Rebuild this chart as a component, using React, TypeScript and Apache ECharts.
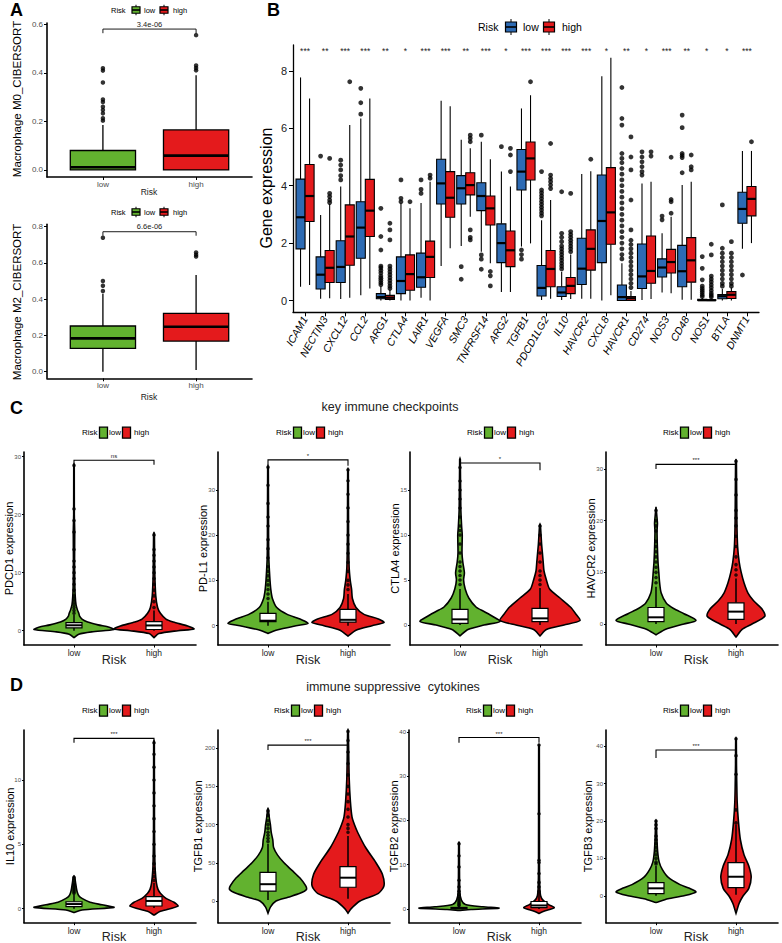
import React, { useEffect, useRef } from "react";
import * as echarts from "echarts";

// ---------------- DATA ----------------
const RISK_GROUPS = ["low", "high"];

// Panel A (boxplots: [lowerWhisker, q1, median, q3, upperWhisker])
const A_TITLES = ["Macrophage M0_CIBERSORT", "Macrophage M2_CIBERSORT"];
const A_YTICKS = [[0, 0.2, 0.4, 0.6], [0, 0.2, 0.4, 0.6, 0.8]];
const A_M0_LOW = [0, 0, 0.011, 0.08, 0.185];
const A_M0_HIGH = [0, 0, 0.059, 0.165, 0.39];
const A_M0_LOW_OUT = [0.203, 0.213, 0.233, 0.247, 0.26, 0.28, 0.29, 0.36, 0.409, 0.419];
const A_M0_HIGH_OUT = [0.41, 0.42, 0.43, 0.555];
const A_M2_LOW = [0.0, 0.129, 0.184, 0.252, 0.43];
const A_M2_HIGH = [0.01, 0.169, 0.248, 0.322, 0.533];
const A_M2_LOW_OUT = [0.445, 0.474, 0.5, 0.739];
const A_M2_HIGH_OUT = [0.635, 0.645, 0.658];
const A_PVALUES = ["3.4e-06", "6.6e-06"];
const A_BRACKETS = [[0.58, 0.563, 0.563], [0.772, 0.75, 0.75]];

// Panel B
const B_GENES = ["ICAM1", "NECTIN3", "CXCL12", "CCL2", "ARG1", "CTLA4", "LAIR1", "VEGFA", "SMC3", "TNFRSF14", "ARG2", "TGFB1", "PDCD1LG2", "IL10", "HAVCR2", "CXCL8", "HAVCR1", "CD274", "NOS3", "CD48", "NOS1", "BTLA", "DNMT1"];
const B_STARS = ["***", "**", "***", "***", "**", "*", "***", "***", "**", "***", "*", "***", "***", "***", "***", "*", "**", "*", "***", "**", "*", "*", "***"];
const B_YTICKS = [0, 2, 4, 6, 8];
const B_LOW = [
  [0.48, 1.8, 2.9, 4.23, 7.77], [0.06, 0.4, 0.9, 1.52, 2.98], [0.05, 0.63, 1.17, 2.08, 3.97], [0.18, 1.47, 2.54, 3.44, 6.34],
  [0, 0.06, 0.12, 0.24, 0.5], [0, 0.24, 0.68, 1.52, 3.39], [0.1, 0.46, 0.81, 1.65, 3.4], [1.2, 3.36, 4.08, 4.92, 6.96],
  [1.9, 3.36, 3.91, 4.35, 5.6], [1.7, 3.13, 3.64, 4.1, 5.53], [0.3, 1.32, 2.0, 2.67, 4.49], [1.88, 3.85, 4.49, 5.26, 6.69],
  [0.02, 0.16, 0.44, 1.22, 2.8], [0.02, 0.14, 0.28, 0.48, 1.0], [0.06, 0.56, 1.11, 2.17, 4.41], [0, 1.32, 2.77, 4.37, 7.81],
  [0, 0, 0.12, 0.54, 1.3], [0.02, 0.42, 0.84, 1.97, 4.08], [0.28, 0.82, 1.15, 1.45, 2.34], [0.03, 0.48, 1.02, 1.92, 4.02],
  [0, 0, 0.01, 0.04, 0.1], [0, 0.06, 0.15, 0.21, 0.41], [1.8, 2.69, 3.19, 3.77, 5.21],
];
const B_HIGH = [
  [0.54, 2.75, 3.64, 4.74, 7.04], [0.08, 0.63, 1.14, 1.74, 3.36], [0.1, 1.23, 2.23, 3.33, 6.11], [0.42, 2.23, 3.13, 4.22, 7.04],
  [0, 0.04, 0.1, 0.18, 0.38], [0, 0.36, 0.92, 1.59, 3.21], [0, 0.8, 1.52, 2.07, 4.14], [1.82, 2.9, 3.58, 4.49, 6.77],
  [2.92, 3.68, 4.02, 4.45, 5.3], [1.3, 2.63, 3.21, 3.64, 4.92], [0.3, 1.18, 1.75, 2.42, 3.97], [1.99, 4.2, 4.95, 5.52, 7.15],
  [0.06, 0.48, 1.1, 1.74, 3.5], [0.05, 0.24, 0.51, 0.8, 1.6], [0.06, 1.06, 1.8, 2.46, 4.5], [0.18, 1.96, 3.07, 4.63, 8.46],
  [0, 0, 0.08, 0.14, 0.33], [0.05, 0.6, 1.03, 2.25, 4.14], [0.25, 0.96, 1.34, 1.78, 2.92], [0.03, 0.64, 1.4, 2.19, 4.14],
  [0, 0, 0.01, 0.03, 0.08], [0, 0.07, 0.2, 0.31, 0.45], [2.0, 2.95, 3.54, 3.97, 5.21],
];
const B_LOW_OUT = [
  [], [5.03], [4.89, 4.72, 4.55, 4.35, 4.2], [7.39, 6.89, 6.49],
  [3.21, 2.23, 1.76, 1.2, 1.14, 1.05, 0.96, 0.85, 0.78, 0.7, 0.62, 0.55], [4.2, 3.56, 3.44], [4.2, 3.87, 3.73], [],
  [1.18, 0.74], [5.76, 1.59, 1.44, 1.09], [5.36], [1.76, 1.6, 1.44],
  [4.49, 3.85, 3.75, 3.65, 3.55, 3.45, 3.35, 3.25, 3.15, 3.05, 2.95], [3.79, 2.34, 2.2, 2.05, 1.9, 1.8, 1.7, 1.6, 1.5, 1.4, 1.3, 1.2, 1.1], [], [],
  [7.42, 6.34, 6.11, 5.12, 4.95, 4.8, 4.6, 4.4, 4.2, 4.0, 3.8, 3.6, 3.4, 3.2, 3.0, 2.8, 2.6, 2.4, 2.2, 2.0, 1.8, 1.6, 1.45],
  [5.18, 5.0, 4.83, 4.66, 4.49, 4.37], [2.94, 2.81], [6.46, 6.02, 5.12, 5.05, 4.98, 4.45],
  [1.53, 1.12, 0.72, 0.5, 0.42, 0.35, 0.28, 0.2, 0.14], [3.33, 1.82, 1.65, 1.5, 1.35, 1.2, 1.05, 0.9, 0.75, 0.6, 0.5], [0.89],
];
const B_HIGH_OUT = [
  [], [4.95, 3.73, 3.62, 3.5, 3.41], [7.62], [],
  [2.69, 2.46, 2.11, 1.2, 1.1, 1.0, 0.9, 0.8, 0.7, 0.6, 0.5, 0.42], [3.44], [4.37, 4.26], [],
  [5.76, 5.65, 5.53, 2.46, 2.2, 2.11], [1.01, 0.86, 0.51], [5.3, 5.07, 4.49], [7.62],
  [5.47, 4.37, 4.25, 4.14, 4.02, 3.9], [3.73, 2.4, 2.3, 2.2, 2.1, 2.0, 1.9, 1.8, 1.7], [4.92], [],
  [5.7, 5.0, 4.55, 3.5, 2.46, 2.1, 1.95, 1.8, 1.65, 1.5, 1.35, 1.2, 1.05, 0.9, 0.75, 0.6, 0.45],
  [5.18, 5.03], [4.99, 3.52, 3.44, 3.04], [5.07, 4.66, 4.55],
  [1.96, 1.59, 0.85, 0.75, 0.65, 0.55, 0.45, 0.35, 0.25, 0.18, 0.12], [2.05, 1.65, 1.5, 1.35, 1.2, 1.05, 0.9, 0.75, 0.6, 0.5], [5.53],
];

// Panel C (key immune checkpoints)
const C_TITLE = "key immune checkpoints";
const C_GENES = ["PDCD1", "PD-L1", "CTLA4", "HAVCR2"];
const C_SIG = ["ns", "*", "*", "***"];
const C_YTICKS = [[0, 10, 20, 30], [0, 10, 20, 30], [0, 5, 10, 15], [0, 10, 20, 30]];
const C_BRACKETS = [[29.4, 28.6, 28.6], [36.6, 35.3, 35.3], [18.0, 17.6, 17.2], [30.9, 30.0, 30.5]];
const C_LOW_BOX = [[0, 0.5, 0.93, 1.4, 2.7], [0, 0.9, 1.1, 2.7, 5.3], [0, 0.19, 0.63, 1.74, 4.0], [0, 0.45, 1.3, 3.2, 7.2]];
const C_HIGH_BOX = [[0, 0.2, 0.9, 1.55, 3.5], [0, 0.8, 1.3, 3.6, 7.0], [0, 0.37, 0.74, 1.85, 4.1], [0, 0.9, 2.4, 4.1, 8.8]];
// violin density profiles: [value, half width in category units]
const C_LOW_VIOLIN = [
  [[-1.2, 0], [-0.6, 0.06], [-0.2, 0.22], [0.2, 0.5], [0.6, 0.44], [1.0, 0.3], [1.5, 0.17], [2, 0.1], [2.5, 0.07], [3, 0.06], [3.5, 0.045], [4.5, 0.025], [6, 0.015], [8, 0.01], [12, 0.007], [17, 0.009], [20, 0.004], [28.6, 0.003], [28.7, 0]],
  [[-1.7, 0], [-1, 0.1], [0, 0.35], [0.5, 0.5], [1.5, 0.4], [2.5, 0.24], [4, 0.11], [6, 0.055], [8, 0.035], [10, 0.025], [12, 0.018], [15, 0.01], [20, 0.007], [35, 0.004], [35.2, 0]],
  [[-1.2, 0], [-0.5, 0.1], [0, 0.3], [0.4, 0.5], [1, 0.4], [1.5, 0.3], [2, 0.2], [3, 0.11], [4, 0.065], [5, 0.045], [5.8, 0.055], [7, 0.035], [8, 0.025], [10, 0.028], [11, 0.02], [13, 0.01], [18.4, 0.004], [18.5, 0]],
  [[-2.1, 0], [-1, 0.12], [0, 0.35], [0.7, 0.5], [2, 0.35], [3, 0.22], [4, 0.13], [6, 0.065], [8, 0.045], [10, 0.035], [12, 0.025], [15, 0.017], [18, 0.013], [19.5, 0.018], [21, 0.01], [22.7, 0]],
];
const C_HIGH_VIOLIN = [
  [[-1.2, 0], [-0.5, 0.06], [0, 0.3], [0.3, 0.5], [0.8, 0.42], [1.5, 0.24], [2, 0.15], [3, 0.08], [4, 0.045], [6, 0.022], [10, 0.01], [16.8, 0.005], [16.9, 0]],
  [[-2.3, 0], [-1, 0.1], [0, 0.3], [0.7, 0.45], [1.5, 0.38], [2.5, 0.2], [4, 0.1], [6, 0.055], [8, 0.045], [10, 0.028], [13, 0.014], [20, 0.007], [34.4, 0.004], [34.6, 0]],
  [[-1.2, 0], [-0.5, 0.08], [0, 0.3], [0.5, 0.5], [1.2, 0.45], [2, 0.38], [3, 0.25], [4, 0.12], [5, 0.08], [6, 0.05], [7, 0.04], [8, 0.03], [9, 0.02], [11.1, 0.005], [11.2, 0]],
  [[-2.5, 0], [-1, 0.08], [0, 0.2], [1.5, 0.36], [3, 0.32], [4.5, 0.22], [6, 0.15], [8, 0.1], [10, 0.065], [12, 0.04], [15, 0.02], [20, 0.011], [31.7, 0.005], [31.8, 0]],
];
const C_LOW_OUT = [
  [3, 3.5, 4, 4.5, 5, 5.5, 6, 7, 8, 9, 10, 11, 12, 14, 17, 19, 21, 28.5],
  [6, 7, 8, 9, 10, 11, 12, 13, 15, 17, 19, 22, 24, 27, 31, 35],
  [4.5, 5, 5.5, 6, 6.5, 7, 8, 9, 10, 10.5, 11, 12, 13, 14, 15, 16, 17.5],
  [8, 9, 10, 11, 12, 13, 14, 15, 16, 18, 19, 20, 22],
];
const C_HIGH_OUT = [
  [4, 5, 6, 7, 8, 9, 10, 11, 12, 13, 14, 16.5],
  [8, 9, 10, 12, 14, 16, 18, 20, 23, 26, 29, 32, 34.4],
  [4.5, 5, 5.5, 6, 7, 8, 9, 10, 11],
  [9.5, 10.5, 11.5, 13, 15, 17, 19, 20.5, 22, 25, 28, 31.5],
];

// Panel D (immune suppressive cytokines)
const D_TITLE = "immune suppressive  cytokines";
const D_GENES = ["IL10", "TGFB1", "TGFB2", "TGFB3"];
const D_SIG = ["***", "***", "***", "***"];
const D_YTICKS = [[0, 5, 10], [0, 50, 100, 150, 200], [0, 10, 20, 30, 40], [0, 10, 20, 30, 40]];
const D_BRACKETS = [[13.24, 12.9, 12.9], [204, 197.6, 200], [38.7, 37.5, 37.5], [39.0, 36.9, 38]];
const D_LOW_BOX = [[0, 0.16, 0.36, 0.54, 1.1], [1.3, 13, 22, 37.5, 75], [0, 0.1, 0.2, 0.35, 0.7], [0, 0.6, 2.0, 3.5, 8.0]];
const D_HIGH_BOX = [[0.05, 0.21, 0.6, 0.93, 2.0], [3, 18, 30.5, 45, 85], [0, 0.3, 0.8, 1.7, 3.7], [0.3, 2.2, 5.1, 8.9, 19]];
const D_LOW_VIOLIN = [
  [[-0.3, 0], [-0.1, 0.1], [0.1, 0.5], [0.3, 0.35], [0.5, 0.2], [0.8, 0.1], [1.0, 0.06], [1.3, 0.04], [1.6, 0.03], [2, 0.02], [2.5, 0.008], [2.55, 0]],
  [[-16, 0], [-8, 0.03], [0, 0.1], [5, 0.25], [10, 0.4], [15, 0.48], [20, 0.47], [30, 0.4], [40, 0.3], [50, 0.2], [60, 0.12], [70, 0.07], [80, 0.06], [90, 0.04], [100, 0.03], [110, 0.015], [120, 0.005], [121, 0]],
  [[-0.3, 0], [-0.1, 0.15], [0.2, 0.5], [0.5, 0.3], [1, 0.08], [2, 0.03], [4, 0.01], [15, 0.004], [15.1, 0]],
  [[-1.8, 0], [-0.8, 0.15], [0, 0.35], [1, 0.5], [2, 0.42], [3, 0.3], [5, 0.15], [7, 0.08], [9, 0.04], [12, 0.02], [16, 0.01], [20, 0.005], [20.2, 0]],
];
const D_HIGH_VIOLIN = [
  [[-0.5, 0], [-0.2, 0.08], [0.2, 0.3], [0.5, 0.25], [0.8, 0.15], [1.2, 0.08], [1.5, 0.05], [2, 0.03], [3, 0.015], [4, 0.01], [6, 0.006], [13, 0.004], [13.05, 0]],
  [[-16, 0], [-10, 0.04], [0, 0.15], [10, 0.38], [20, 0.45], [35, 0.43], [50, 0.35], [70, 0.22], [90, 0.12], [100, 0.08], [110, 0.05], [130, 0.03], [160, 0.015], [200, 0.008], [223, 0.004], [224, 0]],
  [[-1, 0], [-0.5, 0.06], [0.3, 0.19], [1, 0.12], [2, 0.05], [3, 0.02], [5, 0.01], [10, 0.006], [37, 0.004], [37.1, 0]],
  [[-4.7, 0], [-2, 0.04], [0, 0.09], [2, 0.16], [5, 0.19], [8, 0.16], [11, 0.1], [15, 0.055], [20, 0.03], [25, 0.015], [35, 0.006], [42, 0.004], [42.2, 0]],
];
const D_LOW_OUT = [
  [1.2, 1.3, 1.4, 1.5, 1.6, 1.7, 1.8, 1.9, 2.0, 2.2, 2.4],
  [78, 82, 86, 90, 95, 100, 105, 112, 118],
  [0.8, 1, 1.3, 1.6, 2, 2.4, 2.8, 3.3, 4, 5, 6.5, 9.5, 12, 14.7],
  [8.5, 9, 10, 11, 12, 13, 14, 15, 16, 18, 19, 20],
];
const D_HIGH_OUT = [
  [2.2, 2.5, 2.8, 3.1, 3.5, 4.1, 5, 6, 7, 8, 9, 10, 11, 12, 12.9],
  [90, 95, 100, 110, 120, 130, 140, 150, 165, 180, 195, 210, 222],
  [4, 5, 6, 8, 10.5, 11, 21.5, 37],
  [19.5, 23, 32.5, 37.5, 42],
];

// ---------------- STYLE / LAYOUT ----------------
const FONT = "Liberation Sans, Arial, Helvetica, sans-serif";
const GREEN = "#62B22F";
const RED = "#E41A1C";
const BLUE = "#2D6BB4";
const GREY = "#4D4D4D";

const C_AXIS_X = [24, 218, 410, 606];
const D_AXIS_X = [24, 218, 409, 606];
const C_YRANGE = [[-2.47, 30.81], [-4.26, 38.34], [-2.22, 19.22], [-4.06, 33.3]];
const D_YRANGE = [[-1.09, 13.89], [-28.4, 223.8], [-3.09, 40.4], [-7.2, 44.37]];
const D_YTITLE_X = [10, 198, 394, 588];

function boxSeries(gi: number, xs: number[], stats: number[][], colors: string[], width: number, lw: number, medW: number, whiskerW?: number) {
  return {
    type: "custom", xAxisIndex: gi, yAxisIndex: gi, silent: true, z: 3,
    data: stats.map((s, i) => [xs[i], s[2]]),
    renderItem: (params: any, api: any) => {
      const i = params.dataIndex;
      const s = stats[i];
      const x = xs[i];
      const c = (v: number) => api.coord([x, v]);
      const l = api.coord([x - width / 2, s[3]]);
      const r = api.coord([x + width / 2, s[1]]);
      const pLo = c(s[0]), pQ1 = c(s[1]), pMd = c(s[2]), pQ3 = c(s[3]), pHi = c(s[4]);
      const ls = { stroke: "#000", lineWidth: whiskerW || lw };
      return {
        type: "group",
        children: [
          { type: "line", shape: { x1: pLo[0], y1: pLo[1], x2: pQ1[0], y2: pQ1[1] }, style: ls },
          { type: "line", shape: { x1: pQ3[0], y1: pQ3[1], x2: pHi[0], y2: pHi[1] }, style: ls },
          { type: "rect", shape: { x: l[0], y: l[1], width: r[0] - l[0], height: Math.max(r[1] - l[1], 0.5) }, style: { fill: colors[i], stroke: "#000", lineWidth: lw } },
          { type: "line", shape: { x1: l[0], y1: pMd[1], x2: r[0], y2: pMd[1] }, style: { stroke: "#000", lineWidth: medW } },
        ],
      };
    },
  };
}

function violinSeries(gi: number, xs: number[], profiles: number[][][], colors: string[]) {
  return {
    type: "custom", xAxisIndex: gi, yAxisIndex: gi, silent: true, z: 2,
    data: xs.map((x, i) => [x, profiles[i][0][0]]),
    renderItem: (params: any, api: any) => {
      const i = params.dataIndex;
      const p = profiles[i];
      const x = xs[i];
      const right = p.map(([y, w]) => api.coord([x + w, y]));
      const left = p.slice().reverse().map(([y, w]) => api.coord([x - w, y]));
      return {
        type: "polygon",
        shape: { points: right.concat(left), smooth: 0.25 },
        style: { fill: colors[i], stroke: "#000", lineWidth: 1.6 },
      };
    },
  };
}

function outlierSeries(gi: number, xs: number[], outs: number[][], size: number) {
  const data: number[][] = [];
  outs.forEach((arr, i) => arr.forEach((v) => data.push([xs[i], v])));
  return { type: "scatter", xAxisIndex: gi, yAxisIndex: gi, data, symbolSize: size, itemStyle: { color: "#000" }, silent: true, z: 4 };
}

function bracketSeries(gi: number, br: number[], label: string, fontSize: number, lw: number) {
  return {
    type: "custom", xAxisIndex: gi, yAxisIndex: gi, silent: true, z: 5,
    data: [[1.5, br[0]]],
    renderItem: (params: any, api: any) => {
      const a = api.coord([1, br[1]]);
      const b = api.coord([1, br[0]]);
      const c = api.coord([2, br[0]]);
      const d = api.coord([2, br[2]]);
      return {
        type: "group",
        children: [
          { type: "polyline", shape: { points: [a, b, c, d] }, style: { stroke: "#000", lineWidth: lw, fill: null } },
          { type: "text", x: (b[0] + c[0]) / 2, y: b[1] - 1, style: { text: label, fontSize, fontFamily: FONT, fill: "#222", align: "center", verticalAlign: "bottom" } },
        ],
      };
    },
  };
}

function makeX(gi: number, min: number, max: number, values: number[], labels: string[], o: any) {
  return {
    type: "value", gridIndex: gi, min, max,
    splitLine: { show: false },
    axisLine: { show: true, onZero: false, lineStyle: { color: "#000", width: o.lw } },
    axisTick: { show: true, customValues: values, length: o.tick, lineStyle: { color: "#000", width: o.tickW || 1 } },
    axisLabel: {
      show: true, customValues: values, margin: o.margin, fontSize: o.fontSize, fontFamily: FONT, color: o.color,
      rotate: o.rotate || 0, fontStyle: o.italic ? "italic" : "normal",
      formatter: (v: number) => labels[Math.round(v) - 1] ?? "",
    },
  };
}

function makeY(gi: number, min: number, max: number, ticks: number[], o: any) {
  return {
    type: "value", gridIndex: gi, min, max,
    splitLine: { show: false },
    axisLine: { show: true, onZero: false, lineStyle: { color: "#000", width: o.lw } },
    axisTick: { show: true, customValues: ticks, length: o.tick, lineStyle: { color: "#000", width: o.tickW || 1 } },
    axisLabel: {
      show: true, customValues: ticks, margin: o.margin, fontSize: o.fontSize, fontFamily: FONT, color: o.color,
      formatter: (v: number) => (o.decimals ? v.toFixed(o.decimals) : String(v)),
    },
  };
}

function txt(x: number, y: number, text: string, fontSize: number, o: any = {}) {
  return {
    type: "text", x, y, rotation: o.rotation || 0, silent: true,
    style: {
      text, fontSize, fontFamily: FONT, fontWeight: o.bold ? "bold" : "normal", fill: o.color || "#000",
      align: o.align || "center", verticalAlign: "middle",
    },
  };
}

function legend(x0: number, y: number, o: any) {
  const els: any[] = [txt(x0, y, "Risk", o.font, { align: "left", color: "#000" })];
  const keys = [[o.k1, o.colors[0]], [o.k2, o.colors[1]]];
  keys.forEach(([off, col]: any) => {
    const cx = x0 + off;
    if (o.box) {
      els.push({ type: "line", silent: true, shape: { x1: cx, y1: y - o.h / 2 - o.wh, x2: cx, y2: y + o.h / 2 + o.wh }, style: { stroke: "#000", lineWidth: 1 } });
      els.push({ type: "rect", silent: true, shape: { x: cx - o.w / 2, y: y - o.h / 2, width: o.w, height: o.h }, style: { fill: col, stroke: "#000", lineWidth: 1.2 } });
      els.push({ type: "line", silent: true, shape: { x1: cx - o.w / 2, y1: y, x2: cx + o.w / 2, y2: y }, style: { stroke: "#000", lineWidth: 1.6 } });
    } else {
      els.push({ type: "rect", silent: true, shape: { x: cx - o.w / 2, y: y - o.h / 2, width: o.w, height: o.h }, style: { fill: col, stroke: "#000", lineWidth: 1.3 } });
    }
  });
  els.push(txt(x0 + o.t1, y, "low", o.font, { align: "left", color: "#000" }));
  els.push(txt(x0 + o.t2, y, "high", o.font, { align: "left", color: "#000" }));
  return els;
}

function buildOption() {
  const grid: any[] = [];
  const xAxis: any[] = [];
  const yAxis: any[] = [];
  const series: any[] = [];
  const g: any[] = [];

  // ---- Panel A ----
  const aGrids = [{ top: 23, bottom: 177 }, { top: 224.3, bottom: 378.3 }];
  const aRanges = [[-0.029, 0.605], [-0.0364, 0.813]];
  const aBoxes = [[A_M0_LOW, A_M0_HIGH], [A_M2_LOW, A_M2_HIGH]];
  const aOuts = [[A_M0_LOW_OUT, A_M0_HIGH_OUT], [A_M2_LOW_OUT, A_M2_HIGH_OUT]];
  const aLegendY = [10, 212];
  const aTitleY = [99, 302];
  const aRiskY = [192, 396.5];
  aGrids.forEach((gr, k) => {
    const gi = grid.length;
    grid.push({ left: 47, top: gr.top, width: 205, height: gr.bottom - gr.top });
    xAxis.push(makeX(gi, 0.4, 2.6, [1, 2], RISK_GROUPS, { lw: 1.6, tick: 3, margin: 3, fontSize: 8, color: GREY }));
    yAxis.push(makeY(gi, aRanges[k][0], aRanges[k][1], A_YTICKS[k], { lw: 1.6, tick: 3, margin: 4, fontSize: 8, color: GREY, decimals: 1 }));
    series.push(boxSeries(gi, [1, 2], aBoxes[k], [GREEN, RED], 0.7, 1.3, 2.6));
    series.push(outlierSeries(gi, [1, 2], aOuts[k], 4.5));
    series.push(bracketSeries(gi, A_BRACKETS[k], A_PVALUES[k], 7.5, 0.9));
    g.push(...legend(111, aLegendY[k], { font: 7.5, k1: 25, k2: 53, t1: 33, t2: 62, w: 8, h: 6.5, wh: 2, box: true, colors: [GREEN, RED] }));
    g.push(txt(17, aTitleY[k], A_TITLES[k], 11.5, { rotation: Math.PI / 2 }));
    g.push(txt(149, aRiskY[k], "Risk", 8.5, { color: "#222" }));
  });
  g.push(txt(10, 9.5, "A", 18, { bold: true, align: "left" }));

  // ---- Panel B ----
  {
    const gi = grid.length;
    grid.push({ left: 293, top: 45, width: 466, height: 267.3 });
    xAxis.push(makeX(gi, 0.4, 23.6, B_GENES.map((_, i) => i + 1), B_GENES, { lw: 1.3, tick: 4, margin: 5, fontSize: 10.5, color: "#000", rotate: 60, italic: true }));
    yAxis.push(makeY(gi, -0.41, 8.9, B_YTICKS, { lw: 1.3, tick: 4, margin: 6, fontSize: 11, color: "#222" }));
    const xsLow = B_GENES.map((_, i) => i + 1 - 0.225);
    const xsHigh = B_GENES.map((_, i) => i + 1 + 0.225);
    series.push(boxSeries(gi, xsLow.concat(xsHigh), B_LOW.concat(B_HIGH), B_GENES.map(() => BLUE).concat(B_GENES.map(() => RED)), 0.45, 1.1, 2.2));
    series.push(outlierSeries(gi, xsLow.concat(xsHigh), B_LOW_OUT.concat(B_HIGH_OUT), 4.8));
    series.push({
      type: "custom", xAxisIndex: gi, yAxisIndex: gi, silent: true, z: 5,
      data: B_GENES.map((_, i) => [i + 1, 8.7]),
      renderItem: (params: any, api: any) => {
        const p = api.coord([params.dataIndex + 1, 8.7]);
        return { type: "text", x: p[0], y: p[1], style: { text: B_STARS[params.dataIndex], fontSize: 8.5, fontFamily: FONT, fill: "#222", align: "center", verticalAlign: "middle" } };
      },
    });
    g.push(...legend(478, 27, { font: 10.5, k1: 33, k2: 71, t1: 45, t2: 84, w: 11, h: 10, wh: 3, box: true, colors: [BLUE, RED] }));
    g.push(txt(266, 188, "Gene expression", 16, { rotation: Math.PI / 2 }));
    g.push(txt(267, 9.5, "B", 18, { bold: true, align: "left" }));
  }

  // ---- Panels C & D ----
  const sections = [
    { axisX: C_AXIS_X, yr: C_YRANGE, ticks: C_YTICKS, genes: C_GENES, sig: C_SIG, br: C_BRACKETS, lowBox: C_LOW_BOX, highBox: C_HIGH_BOX, lowV: C_LOW_VIOLIN, highV: C_HIGH_VIOLIN, lowO: C_LOW_OUT, highO: C_HIGH_OUT, top: 452, bottom: 645, legendY: 432.7, riskY: 660, titleX: C_AXIS_X.map((x) => x - 15) },
    { axisX: D_AXIS_X, yr: D_YRANGE, ticks: D_YTICKS, genes: D_GENES, sig: D_SIG, br: D_BRACKETS, lowBox: D_LOW_BOX, highBox: D_HIGH_BOX, lowV: D_LOW_VIOLIN, highV: D_HIGH_VIOLIN, lowO: D_LOW_OUT, highO: D_HIGH_OUT, top: 730, bottom: 922.7, legendY: 710.7, riskY: 937, titleX: D_YTITLE_X },
  ];
  const legendX = [[82, 276, 467, 663], [82, 274, 466, 663]];
  sections.forEach((s, si) => {
    s.axisX.forEach((ax, k) => {
      const gi = grid.length;
      grid.push({ left: ax, top: s.top, width: 172, height: s.bottom - s.top });
      xAxis.push(makeX(gi, 0.375, 2.525, [1, 2], RISK_GROUPS, { lw: 1.6, tick: 2.5, margin: 3.5, fontSize: 8.5, color: "#222" }));
      yAxis.push(makeY(gi, s.yr[k][0], s.yr[k][1], s.ticks[k], { lw: 1.6, tick: 2, margin: 3, fontSize: 6, color: GREY }));
      series.push(violinSeries(gi, [1, 2], [s.lowV[k], s.highV[k]], [GREEN, RED]));
      series.push(boxSeries(gi, [1, 2], [s.lowBox[k], s.highBox[k]], ["#FFFFFF", "#FFFFFF"], 0.2, 1.2, 2.0, 1.5));
      series.push(outlierSeries(gi, [1, 2], [s.lowO[k], s.highO[k]], 3.6));
      series.push(bracketSeries(gi, s.br[k], s.sig[k], 6, 1.1));
      g.push(...legend(legendX[si][k], s.legendY, { font: 8, k1: 21.5, k2: 44.5, t1: 27, t2: 52, w: 8, h: 11, wh: 0, box: false, colors: [GREEN, RED] }));
      g.push(txt(s.titleX[k], (s.top + s.bottom) / 2, `${s.genes[k]} expression`, 11, { rotation: Math.PI / 2 }));
      g.push(txt(ax + 90, s.riskY, "Risk", 12.5, { color: "#222" }));
    });
  });
  g.push(txt(10, 407.5, "C", 18, { bold: true, align: "left" }));
  g.push(txt(10, 685, "D", 18, { bold: true, align: "left" }));
  g.push(txt(390, 407, C_TITLE, 12.5, { color: "#222" }));
  g.push(txt(393, 687, D_TITLE, 12.5, { color: "#222" }));

  return {
    animation: false,
    backgroundColor: "#FFFFFF",
    grid, xAxis, yAxis, series,
    graphic: { elements: g },
  };
}

export default function App() {
  const ref = useRef<HTMLDivElement>(null);
  useEffect(() => {
    if (!ref.current) return;
    const chart = echarts.init(ref.current, undefined, { renderer: "svg" });
    chart.setOption(buildOption() as any);
    return () => chart.dispose();
  }, []);
  return <div ref={ref} style={{ position: "absolute", left: 0, top: 0, width: 782, height: 943, background: "#fff" }} />;
}
